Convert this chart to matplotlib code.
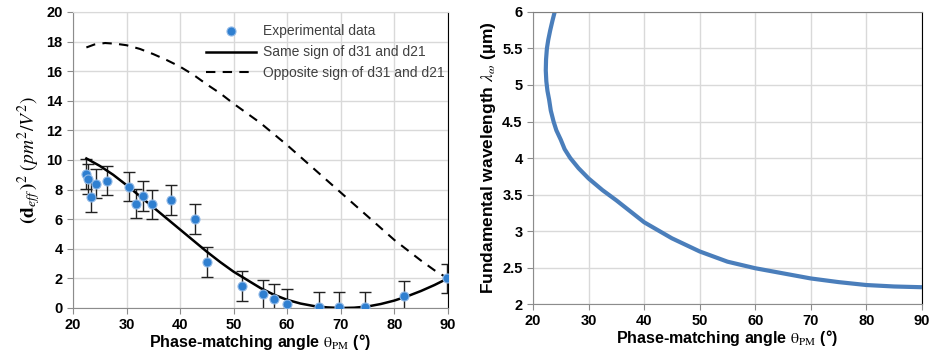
import matplotlib
matplotlib.use('Agg')
from matplotlib import pyplot as plt

plt.rcParams['font.family'] = ['Liberation Sans', 'DejaVu Sans']
plt.rcParams['mathtext.fontset'] = 'stix'

# experimental data
exp_theta = [22.4, 22.8, 23.3, 24.3, 26.3, 30.5, 31.7, 33.1, 34.7, 38.3, 42.7,
             45.1, 51.5, 55.4, 57.5, 59.9, 65.9, 69.7, 74.5, 81.9, 89.9]
exp_deff2 = [9.05, 8.7, 7.5, 8.4, 8.6, 8.2, 7.05, 7.55, 7.0, 7.3, 6.0,
             3.1, 1.5, 0.92, 0.6, 0.27, 0.05, 0.05, 0.05, 0.8, 2.0]
exp_err = [1.0] * len(exp_theta)

# model curves
same_theta = [22.5, 25, 27.5, 30, 32.5, 35, 37.5, 40, 42.5, 45, 47.5, 50, 52.5,
              55, 57.5, 60, 62.5, 65, 67.5, 70, 72.5, 75, 77.5, 80, 82.5, 85,
              87.5, 90]
same_deff2 = [10.1, 9.6, 9.0, 8.3, 7.55, 6.8, 6.05, 5.3, 4.55, 3.8, 3.1, 2.45,
              1.9, 1.35, 0.9, 0.55, 0.3, 0.13, 0.04, 0.0, 0.02, 0.1, 0.27, 0.5,
              0.8, 1.15, 1.55, 2.0]
opp_theta = [22.5, 24, 26, 28, 30, 32.5, 35, 37.5, 40, 42.5, 45, 47.5, 50, 52.5,
             55, 57.5, 60, 62.5, 65, 67.5, 70, 72.5, 75, 77.5, 80, 82.5, 85,
             87.5, 90]
opp_deff2 = [17.6, 17.8, 17.9, 17.85, 17.75, 17.5, 17.15, 16.75, 16.3, 15.75,
             15.1, 14.5, 13.8, 13.15, 12.5, 11.75, 11.0, 10.2, 9.4, 8.6, 7.8,
             7.0, 6.2, 5.4, 4.6, 3.9, 3.2, 2.55, 2.0]

# phase matching curve
pm_theta = [90, 85, 80, 75, 70, 65, 60, 55, 50, 45, 40, 35, 32.5, 30, 28.2,
            26.7, 25.7, 25.0, 24.2, 23.7, 23.2, 22.9, 22.6, 22.4, 22.3, 22.35,
            22.5, 22.75, 23.1, 23.5, 23.9]
pm_lambda = [2.23, 2.24, 2.26, 2.3, 2.35, 2.42, 2.49, 2.58, 2.72, 2.9, 3.12,
             3.42, 3.56, 3.72, 3.86, 4.0, 4.12, 4.25, 4.38, 4.5, 4.65, 4.8,
             4.92, 5.05, 5.2, 5.35, 5.5, 5.62, 5.75, 5.88, 6.0]

fig = plt.figure(figsize=(9.31, 3.58), dpi=100)
ax1 = fig.add_axes([0.0784, 0.1397, 0.4026, 0.827])
ax2 = fig.add_axes([0.5725, 0.1508, 0.4178, 0.8157])

grid_c = '#d9d9d9'
xlab = r'Phase-matching angle $\mathrm{\theta}_{\mathrm{PM}}$ (°)'
for ax in (ax1, ax2):
    ax.grid(True, color=grid_c, lw=1)
    ax.set_axisbelow(True)
    ax.spines['left'].set_color('#8c8c8c')
    ax.spines['bottom'].set_color('#8c8c8c')
    ax.spines['top'].set_color(grid_c)
    ax.spines['right'].set_color('black')
    ax.tick_params(colors='#8c8c8c', labelcolor='black', length=4,
                   labelsize=10.5)
    ax.set_xlim(20, 90)
    ax.set_xticks(range(20, 91, 10))
    ax.set_xlabel(xlab, fontsize=11.5, fontweight='bold', labelpad=0)

ax1.errorbar(exp_theta, exp_deff2, yerr=exp_err, fmt='none', ecolor='#222222',
             elinewidth=1, capsize=4, capthick=1, zorder=2)
ax1.plot(exp_theta, exp_deff2, 'o', color='#2f7fd0', markersize=6.5,
         markeredgecolor='#8fb8e6', markeredgewidth=0.8, zorder=4,
         label='Experimental data')
ax1.plot(same_theta, same_deff2, '-', color='black', lw=1.8, zorder=3,
         label='Same sign of d31 and d21')
ax1.plot(opp_theta, opp_deff2, '--', color='black', lw=1.5, dashes=(4.5, 3.5),
         zorder=3, label='Opposite sign of d31 and d21')
ax1.set_ylim(0, 20)
ax1.set_yticks(range(0, 21, 2))
ax1.set_ylabel(r'$\mathbf{(d}_{eff}\mathbf{\,)}^{2}\ (pm^{2}/V^{2})$',
               fontsize=14, labelpad=2)
leg = ax1.legend(loc='upper right', frameon=False, fontsize=10,
                 bbox_to_anchor=(1.025, 1.0), handlelength=3.6,
                 labelspacing=0.5, handletextpad=0.5)
for t in leg.get_texts():
    t.set_color('#404040')

ax2.plot(pm_theta, pm_lambda, '-', color='#4a7ebb', lw=3,
         solid_capstyle='butt', solid_joinstyle='round')
ax2.set_ylim(2, 6)
ax2.set_yticks([2, 2.5, 3, 3.5, 4, 4.5, 5, 5.5, 6])
ax2.set_yticklabels(['2', '2.5', '3', '3.5', '4', '4.5', '5', '5.5', '6'])
ax2.spines['top'].set_color('#7f7f7f')
ax2.set_ylabel(r'Fundamental wavelength $\lambda_{\omega}$ (µm)',
               fontsize=12.5, fontweight='bold', labelpad=3)

for ax in (ax1, ax2):
    for lbl in ax.get_xticklabels() + ax.get_yticklabels():
        lbl.set_fontweight('bold')

fig.savefig('out.png', dpi=100)
